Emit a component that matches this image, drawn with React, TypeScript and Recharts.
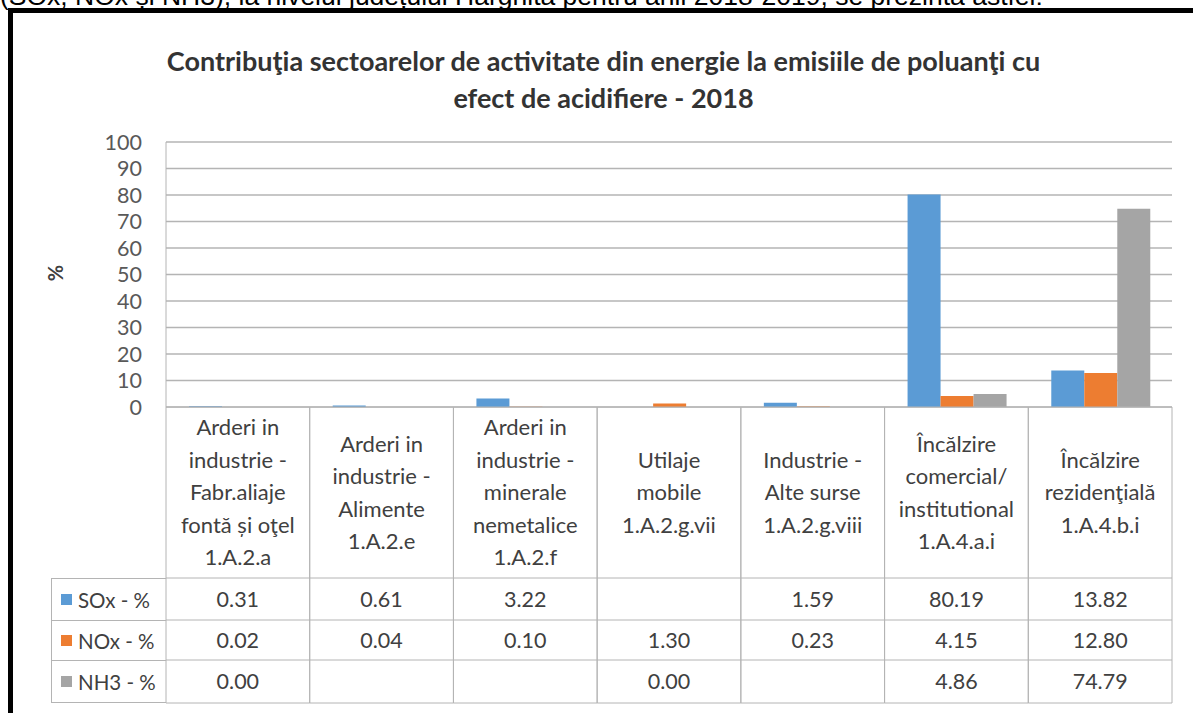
import React from "react";
import { BarChart, Bar, XAxis, YAxis, CartesianGrid } from "recharts";

const categories = [
  ["Arderi in", "industrie -", "Fabr.aliaje", "fontă și oţel", "1.A.2.a"],
  ["Arderi in", "industrie -", "Alimente", "1.A.2.e"],
  ["Arderi in", "industrie -", "minerale", "nemetalice", "1.A.2.f"],
  ["Utilaje", "mobile", "1.A.2.g.vii"],
  ["Industrie -", "Alte surse", "1.A.2.g.viii"],
  ["Încălzire", "comercial/", "institutional", "1.A.4.a.i"],
  ["Încălzire", "rezidenţială", "1.A.4.b.i"],
];

const soxValues = [0.31, 0.61, 3.22, null, 1.59, 80.19, 13.82];
const noxValues = [0.02, 0.04, 0.1, 1.3, 0.23, 4.15, 12.8];
const nh3Values = [0.0, null, null, 0.0, null, 4.86, 74.79];

const seriesNames = ["SOx - %", "NOx - %", "NH3 - %"];
const seriesColors = ["#5b9bd5", "#ed7d31", "#a5a5a5"];
const yTicks = [0, 10, 20, 30, 40, 50, 60, 70, 80, 90, 100];

const data = categories.map((lines, i) => ({
  key: String(i),
  sox: soxValues[i],
  nox: noxValues[i],
  nh3: nh3Values[i],
}));
const seriesValues = [soxValues, noxValues, nh3Values];

const FONT = "Lato, 'Open Sans', sans-serif";
const GRID = "#b4b4b4";
const TEXT = "#404040";

// plot box in page pixels
const PLOT_LEFT = 166;
const PLOT_RIGHT = 1172;
const PLOT_TOP = 142;
const PLOT_BOTTOM = 407;
const COL_W = (PLOT_RIGHT - PLOT_LEFT) / categories.length;

const HEADER_H = 171;
const ROW_H = [42, 40, 43];

function fmt(v: number | null) {
  return v === null ? "" : v.toFixed(2);
}

function ColumnTick(props: any) {
  const { x, y, payload } = props;
  const i = payload.index;
  const lines = categories[i];
  const left = x - COL_W / 2;
  const right = x + COL_W / 2;
  const lineH = 32.5;
  const midY = y + HEADER_H / 2;
  const startY = midY - ((lines.length - 1) * lineH) / 2;
  let rowTop = y + HEADER_H;
  const rows = ROW_H.map((h, r) => {
    const top = rowTop;
    rowTop += h;
    return (
      <g key={r}>
        <line x1={left} x2={right} y1={top} y2={top} stroke={GRID} />
        <text
          x={x}
          y={top + h / 2}
          dy="0.36em"
          textAnchor="middle"
          fill={TEXT}
          fontSize={21.5}
          fontFamily={FONT}
        >
          {fmt(seriesValues[r][i])}
        </text>
      </g>
    );
  });
  return (
    <g>
      <line x1={left} x2={left} y1={y} y2={rowTop} stroke={GRID} />
      <line x1={right} x2={right} y1={y} y2={rowTop} stroke={GRID} />
      <line x1={left} x2={right} y1={rowTop} y2={rowTop} stroke={GRID} />
      {lines.map((t, k) => (
        <text
          key={k}
          x={x}
          y={startY + k * lineH}
          dy="0.36em"
          textAnchor="middle"
          fill={TEXT}
          fontSize={22}
          fontFamily={FONT}
        >
          {t}
        </text>
      ))}
      {rows}
    </g>
  );
}

export default function App() {
  const W = 1193;
  const H = 713;
  const xAxisH = 296;
  const yAxisW = 60;
  const legendTop = PLOT_BOTTOM + HEADER_H;
  return (
    <div
      style={{
        position: "absolute",
        left: 0,
        top: 0,
        width: W,
        height: H,
        overflow: "hidden",
        background: "#fff",
      }}
    >
      <div
        style={{
          position: "absolute",
          left: 0,
          top: -19,
          whiteSpace: "nowrap",
          fontFamily: "'Liberation Sans', Arial, sans-serif",
          fontSize: 26.5,
          lineHeight: "30px",
          color: "#000",
        }}
      >
        (SOx, NOx și NH3), la nivelul județului Harghita pentru anii 2018-2019, se prezintă astfel:
      </div>
      <div
        style={{
          position: "absolute",
          left: 8,
          top: 8,
          width: W,
          height: H,
          borderTop: "5px solid #000",
          borderLeft: "5px solid #000",
          background: "#fff",
        }}
      />
      <div
        style={{
          position: "absolute",
          left: 0,
          width: W,
          top: 42,
          textAlign: "center",
          paddingLeft: 14,
          boxSizing: "border-box",
          fontFamily: FONT,
          fontWeight: 700,
          fontSize: 27,
          lineHeight: "37px",
          color: "#333",
        }}
      >
        Contribuţia sectoarelor de activitate din energie la emisiile de poluanţi cu
        <br />
        efect de acidifiere - 2018
      </div>
      <div
        style={{
          position: "absolute",
          left: 55 - 20,
          top: 273 - 14,
          width: 40,
          height: 28,
          textAlign: "center",
          lineHeight: "28px",
          transform: "rotate(-90deg)",
          fontFamily: FONT,
          fontWeight: 700,
          fontSize: 20,
          color: TEXT,
        }}
      >
        %
      </div>
      <div style={{ position: "absolute", left: 0, top: 0 }}>
        <BarChart
          width={W}
          height={H}
          data={data}
          margin={{
            top: PLOT_TOP,
            left: PLOT_LEFT - yAxisW,
            right: W - PLOT_RIGHT,
            bottom: H - PLOT_BOTTOM - xAxisH,
          }}
          barGap={0}
          barCategoryGap="16%"
        >
          <CartesianGrid vertical={false} stroke={GRID} strokeWidth={1.3} />
          <XAxis
            dataKey="key"
            interval={0}
            height={xAxisH}
            tickLine={false}
            tickSize={0}
            tickMargin={0}
            axisLine={{ stroke: GRID }}
            tick={<ColumnTick />}
          />
          <YAxis
            width={yAxisW}
            domain={[0, 100]}
            ticks={yTicks}
            interval={0}
            tickLine={false}
            tickSize={0}
            tickMargin={24}
            axisLine={{ stroke: GRID }}
            tick={{ fill: "#595959", fontSize: 21.5, fontFamily: FONT }}
          />
          <Bar dataKey="sox" fill={seriesColors[0]} isAnimationActive={false} />
          <Bar dataKey="nox" fill={seriesColors[1]} isAnimationActive={false} />
          <Bar dataKey="nh3" fill={seriesColors[2]} isAnimationActive={false} />
        </BarChart>
      </div>
      {seriesNames.map((name, r) => {
        const top = legendTop + ROW_H.slice(0, r).reduce((a, b) => a + b, 0);
        return (
          <div
            key={name}
            style={{
              position: "absolute",
              left: 51,
              top,
              width: PLOT_LEFT - 51,
              height: ROW_H[r],
              boxSizing: "border-box",
              borderTop: `1px solid ${GRID}`,
              borderLeft: `1px solid ${GRID}`,
              borderBottom: r === seriesNames.length - 1 ? `1px solid ${GRID}` : "none",
              display: "flex",
              alignItems: "center",
              fontFamily: FONT,
              fontSize: 20.5,
              color: TEXT,
              whiteSpace: "nowrap",
            }}
          >
            <span
              style={{
                display: "inline-block",
                width: 11,
                height: 11,
                marginLeft: 9,
                marginRight: 6,
                background: seriesColors[r],
              }}
            />
            {name}
          </div>
        );
      })}
    </div>
  );
}
